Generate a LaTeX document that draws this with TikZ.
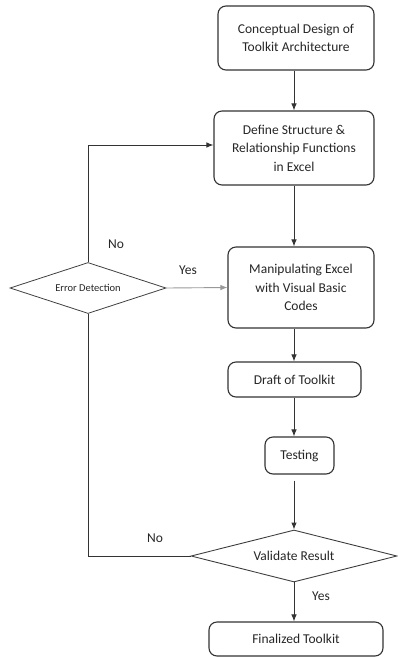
\documentclass[tikz,border=0pt]{standalone}
\usepackage{fontspec}
\setmainfont{Carlito}
\usetikzlibrary{shapes.geometric,arrows.meta}
\begin{document}
\begin{tikzpicture}[x=1pt, y=-1pt,
    stage/.style={
        draw=black!80,
        line width=1.1pt,
        rounded corners=8pt,
        inner sep=0pt,
        align=center,
        text=black!85,
        font=\fontsize{13.5}{18.5}\selectfont
    },
    decision/.style={
        draw=black!75,
        line width=0.9pt,
        diamond,
        aspect=4,
        inner sep=0pt,
        text=black!85,
        font=\fontsize{13.5}{18.5}\selectfont
    },
    flow/.style={
        draw=black!80,
        line width=0.9pt,
        -{Latex[length=7pt,width=5.5pt]}
    },
    note/.style={
        text=black!85,
        font=\fontsize{13.5}{16}\selectfont
    }
]
\useasboundingbox (0,0) rectangle (398,657);

% --- Main column ---
\node[stage, minimum width=156pt, minimum height=64pt] (concept) at (296,38)
    {Conceptual Design of\\Toolkit Architecture};
\node[stage, minimum width=160pt, minimum height=74pt] (define) at (294,148)
    {Define Structure \&\\Relationship Functions\\in Excel};
\node[stage, minimum width=146pt, minimum height=81pt] (manip) at (301,287.5)
    {Manipulating Excel\\with Visual Basic\\Codes};
\node[stage, minimum width=133pt, minimum height=35pt] (draft) at (294.5,379.5)
    {Draft of Toolkit};
\node[stage, minimum width=69pt, minimum height=37pt] (testing) at (299.5,455.5)
    {Testing};
\node[decision, minimum width=206pt, minimum height=52pt] (validate) at (294,556)
    {Validate Result};
\node[stage, minimum width=174pt, minimum height=34pt] (final) at (296,639)
    {Finalized Toolkit};

% --- Error check ---
\node[decision, line width=0.8pt, minimum width=156pt, minimum height=51pt,
    font=\fontsize{10.5}{12}\selectfont] (errdet) at (88,288) {Error Detection};

% --- Arrows ---
\coordinate (axis) at (294,0);
\draw[flow] (concept.south -| axis) -- (define.north -| axis);
\draw[flow] (define.south -| axis) -- (manip.north -| axis);
\draw[flow] (manip.south -| axis) -- (draft.north -| axis);
\draw[flow] (draft.south -| axis) -- (testing.north -| axis);
\path (testing.south -| axis) ++(0,6) coordinate (testout);
\draw[flow] (testout) -- (validate.north);
\draw[flow] (validate.south) -- (final.north -| axis);

% --- Feedback loop ---
\draw[draw=black!80, line width=0.9pt] (validate.west) -| (errdet.south);
\draw[flow] (errdet.north) |- ([yshift=3pt]define.west);
\draw[flow, draw=black!40] (errdet.east) -- (manip.west);

% --- Labels ---
\node[note] (noerr) at (116,244) {No};
\node[note] (yeserr) at (188,270) {Yes};
\node[note] (noval) at (155,538) {No};
\node[note] (yesval) at (321,596) {Yes};

\end{tikzpicture}
\end{document}
